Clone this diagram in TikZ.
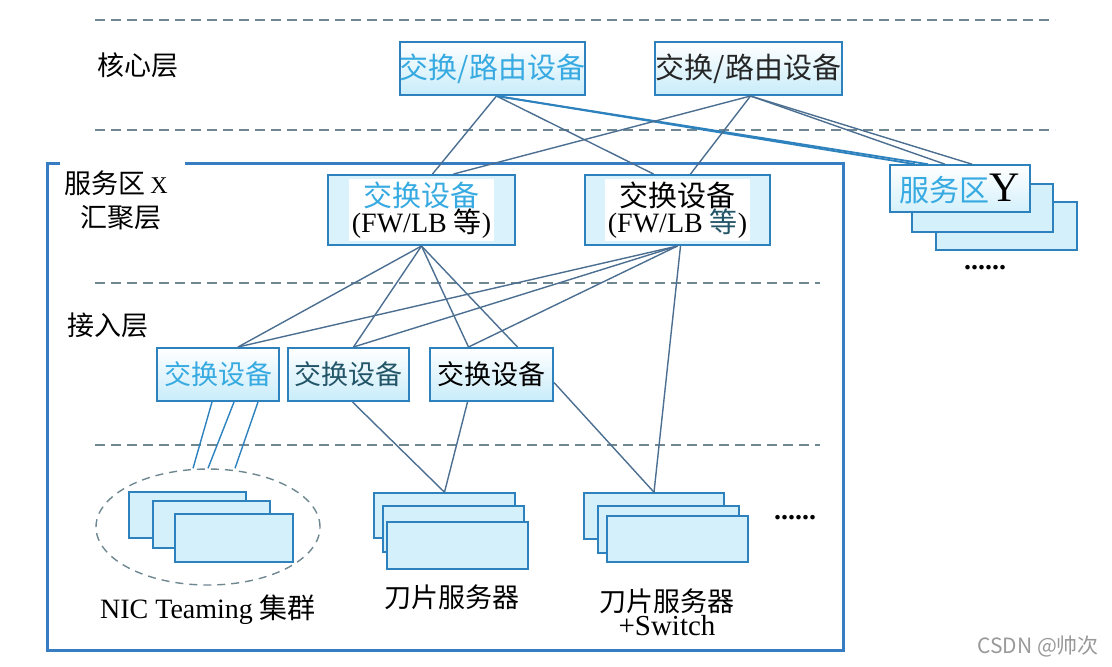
\documentclass[tikz,border=0pt]{standalone}
\usepackage{fontspec}
\setmainfont{Liberation Serif}
\newfontfamily\cjk{Noto Sans CJK SC}
\usetikzlibrary{shapes.geometric}

\newdimen\pxu
\pxu=0.5pt
\definecolor{edgeblue}{RGB}{45,130,190}
\definecolor{boxcyan}{RGB}{200,236,250}
\definecolor{srvcyan}{RGB}{212,240,251}
\definecolor{cyantext}{RGB}{55,170,225}
\definecolor{tealtext}{RGB}{35,85,105}
\definecolor{linecol}{RGB}{75,110,145}
\definecolor{dashcol}{RGB}{110,135,145}
\definecolor{frameblue}{RGB}{55,125,195}

\tikzset{
  devbox/.style={draw=edgeblue, line width=1pt, top color=white, middle color=white,
    bottom color=boxcyan, minimum height=53\pxu, inner sep=0pt},
  aggbox/.style={draw=edgeblue, line width=1pt, fill=boxcyan!70, minimum height=70\pxu},
  aggtext/.style={fill=white, align=center, inner sep=1.5pt, minimum width=122\pxu},
  srvbox/.style={draw=edgeblue, line width=0.8pt, fill=srvcyan, inner sep=0pt},
  link/.style={draw=linecol, line width=0.7pt},
  layerline/.style={draw=dashcol, line width=0.6pt, dash pattern=on 5pt off 3pt},
  lbl/.style={anchor=west, inner sep=0pt},
  zh/.style={font=\cjk\fontsize{13.5}{16}\selectfont},
}

\begin{document}
\begin{tikzpicture}[x=0.5pt,y=-0.5pt]
\useasboundingbox (0,0) rectangle (1112,666);

% layer separators
\draw[layerline] (95,20) -- (1055,20);
\draw[layerline] (95,130) -- (1055,130);
\draw[layerline] (95,283) -- (820,283);
\draw[layerline] (95,445) -- (820,445);

% service area X frame
\draw[frameblue,line width=1.5pt] (185,163) -- (843,163) -- (843,650) -- (47,650) -- (47,163) -- (60,163);

% layer labels
\node[lbl,zh] (lcore) at (97,65) {核心层};
\node[lbl] (lzonex) at (64,183) {{\cjk\fontsize{13.5}{16}\selectfont 服务区} {\fontsize{12}{16}\selectfont X}};
\node[lbl,zh] (lagg) at (80,218) {汇聚层};
\node[lbl,zh] (lacc) at (67,325) {接入层};

% core layer
\node[devbox,minimum width=185\pxu,text=cyantext,font=\cjk\fontsize{14.5}{17}\selectfont] (core1) at (492.5,68.5) {交换/路由设备};
\node[devbox,minimum width=187\pxu,text=black!85,font=\cjk\fontsize{14.5}{17}\selectfont] (core2) at (748.5,68.5) {交换/路由设备};

% aggregation layer
\node[aggbox,minimum width=187\pxu] (aggA) at (421.5,210) {};
\node[aggtext] (aggAtxt) at (aggA) {{\cjk\fontsize{14.5}{17}\selectfont\color{cyantext}交换设备}\\[-1pt]
  {\fontsize{14}{16}\selectfont (FW/LB {\cjk 等})}};
\node[aggbox,minimum width=185\pxu] (aggB) at (677.5,210) {};
\node[aggtext] (aggBtxt) at (aggB) {{\cjk\fontsize{14.5}{17}\selectfont 交换设备}\\[-1pt]
  {\fontsize{14}{16}\selectfont (FW/LB {\cjk\color{tealtext}等})}};

% service area Y
\node[srvbox,minimum width=141\pxu,minimum height=48\pxu] (Yc) at (1006.5,226) {};
\node[srvbox,minimum width=141\pxu,minimum height=48\pxu] (Yb) at (982.5,208) {};
\node[srvbox,minimum width=140\pxu,minimum height=47\pxu,top color=white,middle color=white,bottom color=srvcyan] (Ya) at (960,188.5)
  {{\cjk\fontsize{15}{18}\selectfont\color{cyantext}服务区}{\fontsize{21}{22}\selectfont Y}};
\node[font=\bfseries\fontsize{14}{14}\selectfont] (ydots) at (985,268) {......};

% access layer
\node[devbox,minimum width=122\pxu,text=cyantext,zh] (acc1) at (218,374.5) {交换设备};
\node[devbox,minimum width=121\pxu,text=tealtext,zh] (acc2) at (348.5,374.5) {交换设备};
\node[devbox,minimum width=123\pxu,text=black,zh] (acc3) at (491.5,374.5) {交换设备};

% NIC teaming cluster
\node[ellipse,draw=dashcol,line width=0.7pt,dash pattern=on 4pt off 3pt,minimum width=224\pxu,minimum height=116\pxu] (nic) at (208,527) {};
\node[srvbox,minimum width=117\pxu,minimum height=46\pxu] (nica) at (187.5,515) {};
\node[srvbox,minimum width=117\pxu,minimum height=47\pxu] (nicb) at (211.5,524.5) {};
\node[srvbox,minimum width=118\pxu,minimum height=48\pxu] (nicc) at (234,538) {};
\node[font=\fontsize{14}{16}\selectfont] (nictxt) at (208,610) {NIC Teaming {\cjk 集群}};

% blade servers
\node[srvbox,minimum width=141\pxu,minimum height=45\pxu] (blade1a) at (444.5,515.5) {};
\node[srvbox,minimum width=141\pxu,minimum height=46\pxu] (blade1b) at (453.5,529) {};
\node[srvbox,minimum width=141\pxu,minimum height=47\pxu] (blade1c) at (457.5,545.5) {};
\node[zh] (blade1txt) at (452,597) {刀片服务器};

\node[srvbox,minimum width=140\pxu,minimum height=46\pxu] (blade2a) at (654,516) {};
\node[srvbox,minimum width=141\pxu,minimum height=47\pxu] (blade2b) at (668.5,529.5) {};
\node[srvbox,minimum width=141\pxu,minimum height=46\pxu] (blade2c) at (677.5,539) {};
\node[align=center] (blade2txt) at (667,612) {{\cjk\fontsize{13.5}{16}\selectfont 刀片服务器}\\
  {\fontsize{14.5}{16}\selectfont +Switch}};
\node[font=\bfseries\fontsize{14}{14}\selectfont] (bdots) at (795,518) {......};

% core links
\draw[link] ([xshift=4\pxu]core1.south) -- ([xshift=11\pxu]aggA.north);
\draw[link] ([xshift=4\pxu]core1.south) -- ([xshift=-24\pxu]aggB.north);
\draw[link,line width=0.9pt,edgeblue] ([xshift=4\pxu]core1.south) -- ([xshift=-45\pxu]Ya.north);
\draw[link,line width=0.9pt,edgeblue] ([xshift=4\pxu]core1.south) -- ([xshift=-32\pxu]Ya.north);
\draw[link] ([xshift=2\pxu]core2.south) -- ([xshift=32\pxu]aggA.north);
\draw[link] ([xshift=2\pxu]core2.south) -- ([xshift=13\pxu]aggB.north);
\draw[link] ([xshift=2\pxu]core2.south) -- ([xshift=-15\pxu]Ya.north);
\draw[link] ([xshift=2\pxu]core2.south) -- ([xshift=12\pxu]Ya.north);

% aggregation links
\draw[link] (aggA.south) -- ([xshift=20\pxu]acc1.north);
\draw[link] (aggA.south) -- ([xshift=5\pxu]acc2.north);
\draw[link] (aggA.south) -- ([xshift=-23\pxu]acc3.north);
\draw[link] (aggA.south) -- ([xshift=26\pxu]acc3.north);
\draw[link] (aggB.south) -- ([xshift=20\pxu]acc1.north);
\draw[link] (aggB.south) -- ([xshift=5\pxu]acc2.north);
\draw[link] (aggB.south) -- ([xshift=-23\pxu]acc3.north);
\draw[link] ([xshift=3\pxu]aggB.south) -- (blade2a.north);

% access links
\draw[link,edgeblue] ([xshift=-6\pxu]acc1.south) -- ([xshift=-15\pxu]nic.north);
\draw[link,edgeblue] ([xshift=16\pxu]acc1.south) -- (nic.north);
\draw[link,edgeblue] ([xshift=40\pxu]acc1.south) -- ([xshift=27\pxu]nic.north);
\draw[link] ([xshift=4\pxu]acc2.south) -- (blade1a.north);
\draw[link] ([xshift=-24\pxu]acc3.south) -- (blade1a.north);
\draw[link] ([yshift=-8\pxu]acc3.east) -- (blade2a.north);

% watermark
\node[anchor=east,text=black!40,font=\cjk\fontsize{10.5}{12}\selectfont] (mark) at (1106,646) {CSDN @帅次};
\end{tikzpicture}
\end{document}
